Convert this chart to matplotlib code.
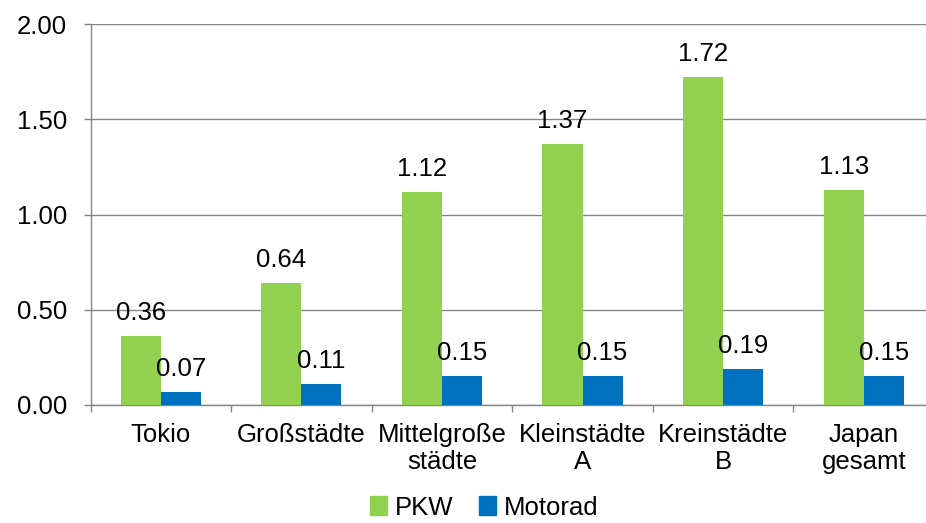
import numpy as np
import matplotlib
matplotlib.use("Agg")
import matplotlib.pyplot as plt
from matplotlib.patches import Patch
from matplotlib.ticker import FixedLocator, FormatStrFormatter

# -------------------------------------------------------
# Data
# -------------------------------------------------------
categories = ["Tokio", "Großstädte", "Mittelgroße\nstädte",
              "Kleinstädte\nA", "Kreinstädte\nB", "Japan\ngesamt"]
pkw = [0.36, 0.64, 1.12, 1.37, 1.72, 1.13]
motorad = [0.07, 0.11, 0.15, 0.15, 0.19, 0.15]
series_names = ["PKW", "Motorad"]

GREEN = "#92D050"
BLUE = "#0070C0"
GRID = "#868686"
FS = 18.5

plt.rcParams["font.family"] = ["Liberation Sans", "DejaVu Sans"]

fig = plt.figure(figsize=(9.26, 5.23), dpi=100)
ax = fig.add_axes([90.5 / 926, 1 - 405 / 523, (934 - 90.5) / 926, (405 - 24) / 523])

x = np.arange(len(categories))
w = 0.285
bars1 = ax.bar(x - w / 2, pkw, w, color=GREEN, zorder=3)
bars2 = ax.bar(x + w / 2, motorad, w, color=BLUE, zorder=3)

# value labels above the bars
for bars, vals in ((bars1, pkw), (bars2, motorad)):
    for b, v in zip(bars, vals):
        ax.annotate(f"{v:.2f}", (b.get_x() + b.get_width() / 2, v),
                    xytext=(0, 11.5), textcoords="offset points",
                    ha="center", va="baseline", fontsize=FS, color="black")

ax.set_xlim(-0.5, len(categories) - 0.5)
ax.set_ylim(0, 2.0)
ax.set_yticks(np.arange(0, 2.01, 0.5))
ax.yaxis.set_major_formatter(FormatStrFormatter("%.2f"))
ax.grid(axis="y", color=GRID, linewidth=1.0, zorder=0)

ax.set_xticks(x)
ax.set_xticklabels(categories, fontsize=FS, linespacing=1.15)
ax.xaxis.set_minor_locator(FixedLocator(np.arange(-0.5, len(categories), 1.0)))
ax.tick_params(axis="x", which="major", length=0, pad=13)
ax.tick_params(axis="x", which="minor", length=5, color=GRID, width=1.0)
ax.tick_params(axis="y", length=5, color=GRID, width=1.0, pad=12, labelsize=FS)

for side in ("top", "right"):
    ax.spines[side].set_visible(False)
for side in ("left", "bottom"):
    ax.spines[side].set_color(GRID)
    ax.spines[side].set_linewidth(1.0)

handles = [Patch(color=GREEN), Patch(color=BLUE)]
fig.legend(handles, series_names, loc="lower center", bbox_to_anchor=(0.523, -0.038),
           ncol=2, frameon=False, fontsize=FS, handlelength=0.65, handleheight=0.75,
           handletextpad=0.3, columnspacing=1.0)

fig.savefig("out.png", dpi=100)
